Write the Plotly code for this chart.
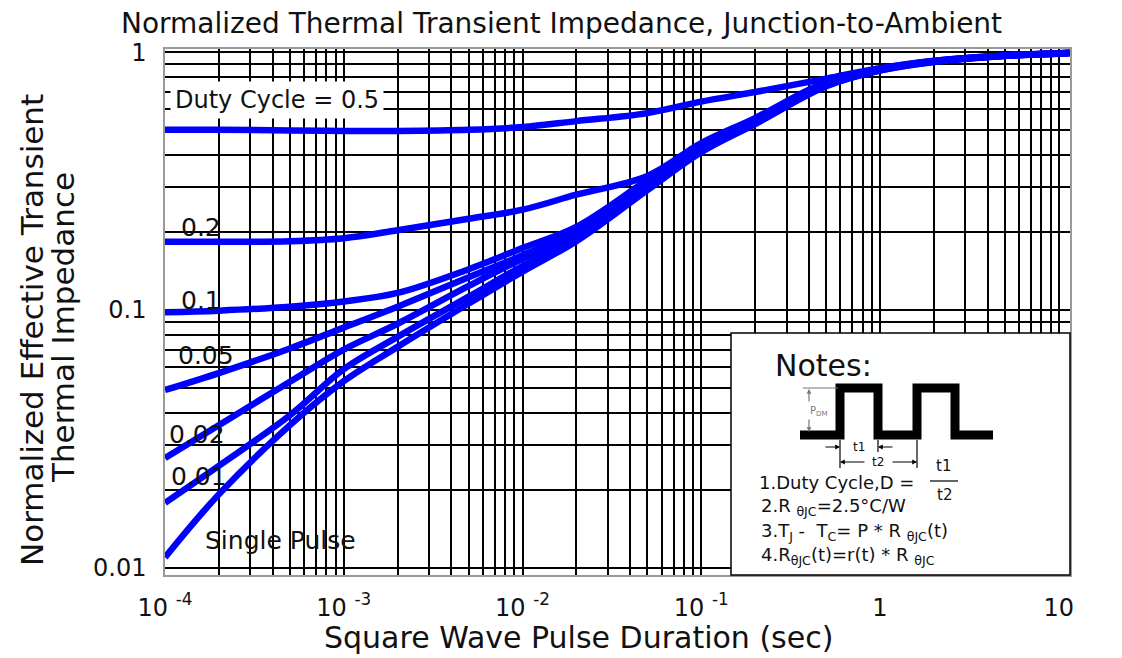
import plotly.graph_objects as go

# ---------------- data ----------------
pulse_duration = [1e-4, 2e-4, 5e-4, 1e-3, 2e-3, 5e-3, 1e-2, 2e-2, 5e-2,
                  0.1, 0.2, 0.5, 1, 2, 5, 10, 11.5]

z_duty_05 = [0.50, 0.50, 0.497, 0.495, 0.495, 0.50, 0.512, 0.54, 0.58,
             0.643, 0.70, 0.789, 0.866, 0.926, 0.971, 0.99, 0.995]
z_duty_02 = [0.184, 0.184, 0.185, 0.19, 0.204, 0.226, 0.245, 0.28, 0.331,
             0.444, 0.555, 0.765, 0.862, 0.924, 0.970, 0.989, 0.994]
z_duty_01 = [0.098, 0.0995, 0.103, 0.108, 0.1165, 0.144, 0.174, 0.21, 0.319,
             0.432, 0.543, 0.755, 0.858, 0.922, 0.969, 0.988, 0.993]
z_duty_005 = [0.049, 0.057, 0.071, 0.0855, 0.103, 0.134, 0.163, 0.203, 0.31,
              0.425, 0.536, 0.748, 0.855, 0.921, 0.968, 0.988, 0.993]
z_duty_002 = [0.0267, 0.0358, 0.0527, 0.0703, 0.0885, 0.124, 0.158, 0.196, 0.303,
              0.417, 0.531, 0.743, 0.852, 0.919, 0.967, 0.987, 0.992]
z_duty_001 = [0.0179, 0.0249, 0.0391, 0.059, 0.0787, 0.1127, 0.148, 0.19, 0.297,
              0.413, 0.528, 0.740, 0.850, 0.918, 0.967, 0.987, 0.991]
z_single = [0.0110, 0.0193, 0.0358, 0.053, 0.072, 0.106, 0.141, 0.185, 0.292,
            0.409, 0.526, 0.738, 0.848, 0.916, 0.966, 0.986, 0.99]

curves = [z_duty_05, z_duty_02, z_duty_01, z_duty_005, z_duty_002, z_duty_001, z_single]

x_tick_vals = [1e-4, 1e-3, 1e-2, 1e-1, 1, 10]
x_tick_text = ["10 <sup>-4</sup>", "10 <sup>-3</sup>", "10 <sup>-2</sup>",
               "10 <sup>-1</sup>", "1", "10"]
y_tick_vals = [0.01, 0.1, 1]
y_tick_text = ["0.01", "0.1", "1"]

curve_labels = ["Duty Cycle = 0.5", "0.2", "0.1", "0.05", "0.02", "0.01", "Single Pulse"]

# ---------------- layout helpers ----------------
W, H = 1122, 658            # browser window
OFF = 8                     # default page body margin
FW, FH = W - 2 * OFF, H - OFF
PL, PR, PT, PB = 165, 1070, 49, 575   # plot area in window pixels
FONT = "DejaVu Sans"


def P(x, y):
    """window pixel -> paper coordinates"""
    return (x - PL) / (PR - PL), (PB - y) / (PB - PT)


fig = go.Figure()
for z in curves:
    fig.add_trace(go.Scatter(x=pulse_duration, y=z, mode="lines",
                             line=dict(color="#0000ff", width=6.5, shape="spline", smoothing=1.0),
                             hoverinfo="skip", showlegend=False))

x_minor = [m * 10.0 ** e for e in range(-4, 1) for m in range(2, 10)]
y_minor = [m * 10.0 ** e for e in (-2, -1) for m in range(2, 10)]

axis_common = dict(showgrid=True, gridcolor="black", gridwidth=1.6,
                   showline=True, linecolor="#9a9a9a", linewidth=1.5, mirror=True,
                   ticks="", zeroline=False,
                   tickfont=dict(family=FONT, size=24, color="#111"))
fig.update_xaxes(type="log", range=[-4, 1.063], tickmode="array",
                 tickvals=x_tick_vals, ticktext=x_tick_text, ticklabelstandoff=10,
                 minor=dict(tickmode="array", tickvals=x_minor, showgrid=True,
                            gridcolor="black", gridwidth=1.6, ticks=""),
                 **axis_common)
fig.update_yaxes(type="log", range=[-2.027, 0.012], tickmode="array",
                 tickvals=y_tick_vals, ticktext=y_tick_text, ticklabelstandoff=12,
                 minor=dict(tickmode="array", tickvals=y_minor, showgrid=True,
                            gridcolor="black", gridwidth=1.6, ticks=""),
                 **axis_common)

shapes = []
annotations = []

# notes box
bx0, by0 = P(731, 333)
shapes.append(dict(type="rect", xref="paper", yref="paper", x0=bx0, y0=0, x1=1, y1=by0,
                   fillcolor="white", line=dict(color="black", width=1.5), layer="above"))

# square wave pulse drawing
wave_px = [(800, 435), (840, 435), (840, 388), (878, 388), (878, 435), (917, 435),
           (917, 388), (955, 388), (955, 435), (993, 435)]
path = ""
for i, (px, py) in enumerate(wave_px):
    a, b = P(px, py)
    path += ("M" if i == 0 else " L") + f"{a:.5f},{b:.5f}"
shapes.append(dict(type="path", xref="paper", yref="paper", path=path,
                   line=dict(color="black", width=9), layer="above"))


def seg(x0, y0, x1, y1, w=1.2, c="black"):
    a0, b0 = P(x0, y0)
    a1, b1 = P(x1, y1)
    shapes.append(dict(type="line", xref="paper", yref="paper", x0=a0, y0=b0, x1=a1, y1=b1,
                       line=dict(color=c, width=w), layer="above"))


def arrow(xh, yh, ax, ay, c="black"):
    a, b = P(xh, yh)
    annotations.append(dict(xref="paper", yref="paper", x=a, y=b, ax=ax, ay=ay, text="",
                            showarrow=True, arrowhead=2, arrowsize=0.8, arrowwidth=1.2,
                            arrowcolor=c))


def text(x, y, s, size, anchor="center", color="#111", **kw):
    a, b = P(x, y)
    annotations.append(dict(xref="paper", yref="paper", x=a, y=b, text=s, showarrow=False,
                            xanchor=anchor, yanchor="middle",
                            font=dict(family=FONT, size=size, color=color), **kw))


# dimension lines for t1 / t2
seg(840, 440, 840, 468)
seg(878, 440, 878, 452)
seg(917, 440, 917, 468)
arrow(840, 447, -16, 0)
arrow(878, 447, 16, 0)
text(859, 447, "t1", 12)
arrow(840, 462, 26, 0)
arrow(917, 462, -26, 0)
text(878, 462, "t2", 12)

# P_DM marker
seg(803, 388, 838, 388, w=1, c="#777")
arrow(809, 389, 0, 14, c="#777")
arrow(809, 432, 0, -14, c="#777")
text(818, 411, "P<sub>DM</sub>", 10, color="#777")

# notes text
text(773, 365, "Notes:", 30, anchor="left")
text(757, 482, "1.Duty Cycle,D =", 18, anchor="left")
text(943, 466, "t1", 15)
seg(930, 481, 958, 481, w=1.2)
text(944, 495, "t2", 15)
text(759, 507, "2.R <sub>θJC</sub>=2.5°C/W", 18, anchor="left")
text(759, 532, "3.T<sub>J</sub> -  T<sub>C</sub>= P * R <sub>θJC</sub>(t)", 18, anchor="left")
text(759, 556, "4.R<sub>θJC</sub>(t)=r(t) * R <sub>θJC</sub>", 18, anchor="left")

# curve labels
label_px = [(170, 100, "left"), (201, 228, "center"), (201, 300, "center"),
            (206, 355, "center"), (197, 435, "center"), (199, 476, "center"),
            (280, 540, "center")]
for (lx, ly, anc), lab in zip(label_px, curve_labels):
    if lab.startswith("Duty"):
        text(lx, ly, lab, 24, anchor=anc, bgcolor="white", borderpad=4)
    else:
        text(lx, ly, lab, 25, anchor=anc)

# titles
text(561, 24, "Normalized Thermal Transient Impedance, Junction-to-Ambient", 28)
text(578, 637, "Square Wave Pulse Duration (sec)", 30)
for lx, ly, s in [(32, 330, "Normalized Effective Transient"), (63, 328, "Thermal Impedance")]:
    a, b = P(lx, ly)
    annotations.append(dict(xref="paper", yref="paper", x=a, y=b, showarrow=False, text=s,
                            textangle=-90, xanchor="center", yanchor="middle",
                            font=dict(family=FONT, size=31, color="#111")))

fig.update_layout(width=FW, height=FH,
                  margin=dict(l=PL - OFF, r=(OFF + FW) - PR, t=PT - OFF, b=(OFF + FH) - PB,
                              autoexpand=False),
                  paper_bgcolor="white", plot_bgcolor="white",
                  shapes=shapes, annotations=annotations, showlegend=False)

fig.write_html("out.html")
